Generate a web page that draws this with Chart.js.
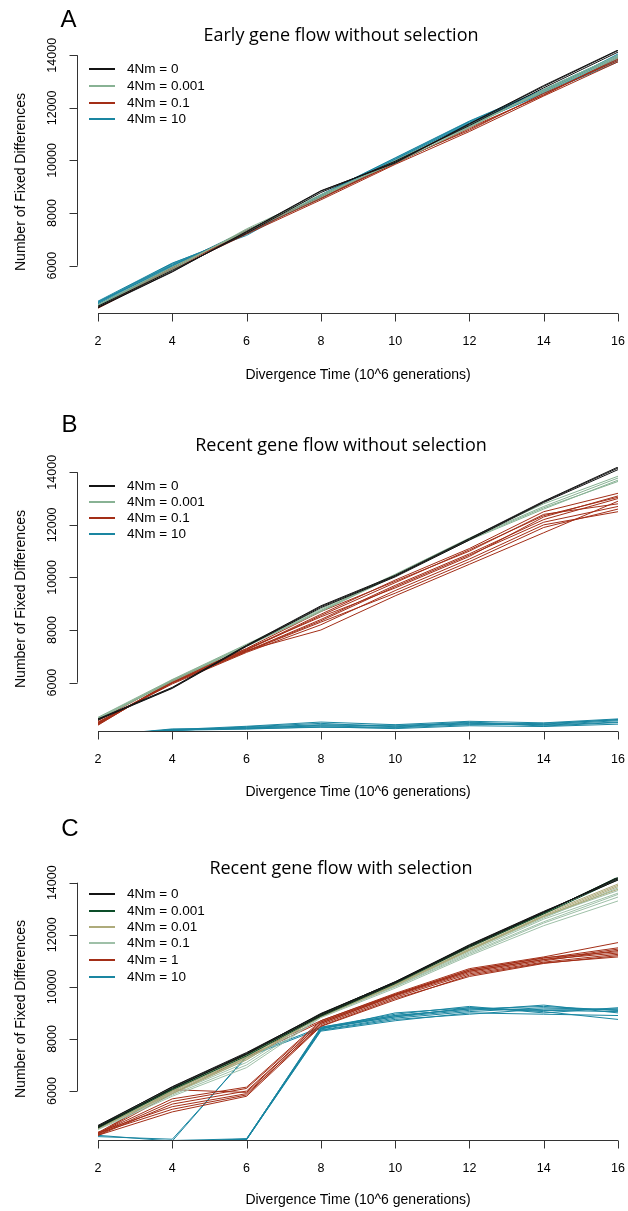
<!DOCTYPE html>
<html>
<head>
<meta charset="utf-8">
<script src="https://cdn.jsdelivr.net/npm/chart.js@4.4.1/dist/chart.umd.min.js"></script>
<style>
body { margin: 0; background: #fff; }
#page { position: relative; width: 628px; height: 1211px; overflow: hidden; font-family: "Liberation Sans", Arial, sans-serif; color: #000; }
#page canvas { position: absolute; left: 0; }
.t { position: absolute; transform: translate(-50%, -50%); line-height: 1; white-space: nowrap; }
.letter { font-size: 24px; }
.title { font-family: "Open Sans", Lato, sans-serif; font-size: 18px; }
.xt { font-size: 14px; }
.yt { font-size: 14px; transform: translate(-50%, -50%) rotate(-90deg); }
.lg { position: absolute; left: 127px; font-size: 13.5px; line-height: 1; white-space: nowrap; transform: translateY(-50%); }
.sw { position: absolute; left: 89px; width: 26px; height: 2px; }
</style>
</head>
<body>
<div id="page"></div>
<script>
// x positions of the simulation runs (10^6 generations)
const years = [2, 4, 6, 8, 10, 12, 14, 16];
const xTicks = [2, 4, 6, 8, 10, 12, 14, 16];
const yTicks = [6000, 8000, 10000, 12000, 14000];

const panelLetters = ['A', 'B', 'C'];
const panelTitles = ['Early gene flow without selection', 'Recent gene flow without selection', 'Recent gene flow with selection'];
const xTitle = 'Divergence Time (10^6 generations)';
const yTitle = 'Number of Fixed Differences';

const legendAB = ['4Nm = 0', '4Nm = 0.001', '4Nm = 0.1', '4Nm = 10'];
const legendC = ['4Nm = 0', '4Nm = 0.001', '4Nm = 0.01', '4Nm = 0.1', '4Nm = 1', '4Nm = 10'];

const colBlack = '#141414';
const colGreen = '#88b294';
const colRed = '#a32e17';
const colTeal = '#1a86a1';
const colDkGreen = '#0c4d29';
const colOlive = '#aeab7b';
const colLtGreen = '#9fc0a8';

// --- panel A : early gene flow, no selection
const aNm0 = [
    [4420, 5780, 7280, 8830, 9930, 11380, 12820, 14180],
    [4460, 5820, 7230, 8780, 9970, 11330, 12760, 14120],
    [4400, 5760, 7300, 8850, 9900, 11400, 12850, 14200]
];
const aNm0001 = [
    [4480, 5900, 7350, 8650, 9950, 11300, 12650, 13950],
    [4520, 5950, 7300, 8600, 10000, 11350, 12600, 13900],
    [4450, 5850, 7400, 8700, 9900, 11250, 12700, 14000]
];
const aNm01 = [
    [4380, 5850, 7200, 8500, 9850, 11100, 12450, 13750],
    [4420, 5900, 7250, 8550, 9900, 11200, 12500, 13850],
    [4400, 5880, 7300, 8600, 9950, 11150, 12550, 13800],
    [4450, 5920, 7350, 8580, 9880, 11250, 12480, 13900]
];
const aNm10 = [
    [4550, 6000, 7250, 8600, 10000, 11400, 12600, 13800],
    [4600, 6050, 7200, 8650, 10050, 11450, 12650, 13900],
    [4500, 5950, 7300, 8550, 9950, 11350, 12550, 13750],
    [4650, 6100, 7150, 8700, 10100, 11500, 12700, 14000],
    [4480, 5980, 7350, 8620, 9980, 11300, 12620, 13850],
    [4580, 6020, 7280, 8580, 10020, 11420, 12580, 14050],
    [4620, 6080, 7220, 8680, 10080, 11480, 12680, 13950]
];

// --- panel B : recent gene flow, no selection
const bNm0 = [
    [4600, 5800, 7400, 8890, 10050, 11450, 12880, 14160],
    [4580, 5780, 7380, 8850, 10020, 11420, 12850, 14100],
    [4620, 5820, 7420, 8920, 10080, 11480, 12900, 14200]
];
const bNm0001 = [
    [4650, 6100, 7430, 8750, 10100, 11480, 12700, 13780],
    [4600, 6050, 7380, 8700, 10050, 11420, 12600, 13700],
    [4680, 6120, 7460, 8800, 10120, 11500, 12800, 13850],
    [4620, 6080, 7400, 8720, 10080, 11450, 12650, 13650]
];
const bNm01 = [
    [4400, 6050, 7250, 8600, 9900, 11100, 12500, 13200],
    [4450, 6000, 7200, 8400, 9700, 10900, 12200, 13000],
    [4380, 6080, 7300, 8700, 9850, 11000, 12400, 12800],
    [4500, 5950, 7150, 8200, 9500, 10700, 12000, 12500],
    [4420, 6020, 7220, 8000, 9300, 10500, 11700, 12900],
    [4550, 6100, 7280, 8500, 9600, 10800, 12300, 13100],
    [4470, 5980, 7180, 8300, 9400, 10600, 11900, 12600],
    [4430, 6060, 7240, 8550, 9800, 11050, 12350, 13050],
    [4490, 6010, 7190, 8350, 9650, 10850, 12100, 12700]
];
const bNm10 = [
    [4000, 4200, 4280, 4350, 4300, 4450, 4400, 4550],
    [4050, 4180, 4300, 4400, 4350, 4500, 4380, 4500],
    [3950, 4220, 4250, 4300, 4280, 4400, 4420, 4600],
    [4020, 4170, 4320, 4450, 4320, 4480, 4350, 4480],
    [3980, 4240, 4260, 4380, 4380, 4420, 4450, 4580],
    [4030, 4190, 4230, 4320, 4250, 4360, 4330, 4420],
    [3990, 4210, 4340, 4500, 4400, 4530, 4470, 4620]
];

// --- panel C : recent gene flow with selection
const cNm0 = [
    [4650, 6170, 7480, 8950, 10200, 11600, 12880, 14150],
    [4600, 6100, 7420, 8900, 10150, 11550, 12850, 14200],
    [4680, 6150, 7450, 8980, 10180, 11620, 12900, 14100]
];
const cNm0001 = [
    [4620, 6120, 7400, 8920, 10170, 11580, 12860, 14180],
    [4580, 6050, 7350, 8870, 10120, 11520, 12800, 14120],
    [4640, 6080, 7430, 8960, 10190, 11560, 12830, 14220]
];
const cNm001 = [
    [4600, 6000, 7300, 8900, 10100, 11450, 12750, 13900],
    [4550, 5950, 7250, 8850, 10050, 11400, 12700, 13850],
    [4620, 6050, 7350, 8930, 10150, 11500, 12800, 13950],
    [4580, 5900, 7200, 8880, 10080, 11420, 12720, 13750]
];
const cNm01 = [
    [4600, 5950, 7200, 8880, 10050, 11350, 12600, 13600],
    [4550, 5850, 7000, 8850, 10000, 11250, 12450, 13450],
    [4650, 6000, 7300, 8950, 10100, 11450, 12700, 13700],
    [4520, 5800, 6900, 8820, 9950, 11200, 12350, 13300],
    [4580, 5900, 7100, 8900, 10020, 11300, 12500, 13550],
    [4620, 6050, 7350, 8920, 10120, 11400, 12650, 13800]
];
const cNm1 = [
    [4400, 6000, 7400, 8700, 9750, 10700, 11150, 11700],
    [4350, 5900, 7300, 8650, 9700, 10650, 11100, 11500],
    [4350, 6050, 5950, 8600, 9650, 10550, 11000, 11400],
    [4300, 5500, 6000, 8600, 9680, 10600, 11050, 11300],
    [4380, 5300, 5850, 8550, 9600, 10500, 10950, 11250],
    [4320, 5600, 6100, 8650, 9700, 10600, 11050, 11450],
    [4420, 5400, 5900, 8500, 9550, 10400, 10900, 11200],
    [4360, 5700, 6150, 8700, 9720, 10650, 11120, 11350],
    [4300, 5200, 5800, 8480, 9500, 10450, 10920, 11150]
];
const cNm10 = [
    [4050, 4000, 4150, 8400, 8900, 9150, 9100, 9050],
    [4000, 3950, 4140, 8350, 8800, 9050, 9200, 9100],
    [4080, 4050, 4160, 8450, 8950, 9250, 9000, 9200],
    [3980, 4020, 4130, 8300, 8700, 9000, 8950, 8900],
    [4100, 4100, 4170, 8420, 8850, 9100, 9300, 9000],
    [4020, 3980, 4140, 8380, 9000, 9200, 9050, 8750],
    [4060, 4030, 4150, 8330, 8750, 8950, 9150, 9150],
    [4300, 4080, 7350, 8450, 8900, 9150, 9250, 9100],
    [4250, 4150, 7300, 8400, 8850, 9200, 9100, 9150]
];

const panels = [
    { top: 0, h: 395, padTop: 50, padBottom: 82, yMin: 4200, yMax: 14200,
      groups: [[aNm0, colBlack], [aNm0001, colGreen], [aNm01, colRed], [aNm10, colTeal]],
      legend: legendAB, legendColors: [colBlack, colGreen, colRed, colTeal], legendY: [69, 86, 103, 119],
      letterPos: [68.5, 18.5], titleY: 34, yTitleY: 181.5, xTitleY: 374 },
    { top: 395, h: 405, padTop: 72, padBottom: 69, yMin: 4160, yMax: 14200,
      groups: [[bNm0, colBlack], [bNm0001, colGreen], [bNm01, colRed], [bNm10, colTeal]],
      legend: legendAB, legendColors: [colBlack, colGreen, colRed, colTeal], legendY: [486, 502, 518, 534],
      letterPos: [69.5, 424], titleY: 443.5, yTitleY: 599, xTitleY: 791 },
    { top: 800, h: 411, padTop: 77.5, padBottom: 71, yMin: 4120, yMax: 14200,
      groups: [[cNm0, colBlack], [cNm0001, colDkGreen], [cNm001, colOlive], [cNm01, colLtGreen], [cNm1, colRed], [cNm10, colTeal]],
      legend: legendC, legendColors: [colBlack, colDkGreen, colOlive, colLtGreen, colRed, colTeal], legendY: [894, 911, 927, 943, 960, 977],
      letterPos: [70, 827.5], titleY: 866.5, yTitleY: 1009, xTitleY: 1199 }
];

// R style axes: lines only between first and last tick
const rAxes = {
    id: 'rAxes',
    afterDraw(chart) {
        const { ctx, chartArea } = chart;
        const xs = chart.scales.x, ys = chart.scales.y;
        ctx.save();
        ctx.strokeStyle = '#333';
        ctx.fillStyle = '#000';
        ctx.lineWidth = 1;
        ctx.font = '12.5px "Liberation Sans", Arial, sans-serif';
        ctx.textAlign = 'center';
        ctx.textBaseline = 'middle';

        const yb = Math.round(chartArea.bottom) + 0.5;
        ctx.beginPath();
        ctx.moveTo(xs.getPixelForValue(xTicks[0]), yb);
        ctx.lineTo(xs.getPixelForValue(xTicks[xTicks.length - 1]), yb);
        xTicks.forEach(v => {
            const px = Math.round(xs.getPixelForValue(v)) + 0.5;
            ctx.moveTo(px, yb);
            ctx.lineTo(px, yb + 8);
        });
        ctx.stroke();
        xTicks.forEach(v => ctx.fillText(String(v), xs.getPixelForValue(v), yb + 28));

        const xl = 77.5;
        ctx.beginPath();
        ctx.moveTo(xl, ys.getPixelForValue(yTicks[0]));
        ctx.lineTo(xl, ys.getPixelForValue(yTicks[yTicks.length - 1]));
        yTicks.forEach(v => {
            const py = Math.round(ys.getPixelForValue(v)) + 0.5;
            ctx.moveTo(xl, py);
            ctx.lineTo(xl - 8, py);
        });
        ctx.stroke();
        yTicks.forEach(v => {
            ctx.save();
            ctx.translate(53, ys.getPixelForValue(v));
            ctx.rotate(-Math.PI / 2);
            ctx.fillText(String(v), 0, 0);
            ctx.restore();
        });
        ctx.restore();
    }
};

const page = document.getElementById('page');

function addText(cls, text, x, y) {
    const d = document.createElement('div');
    d.className = 't ' + cls;
    d.textContent = text;
    d.style.left = x + 'px';
    d.style.top = y + 'px';
    page.appendChild(d);
}

panels.forEach((p, k) => {
    const canvas = document.createElement('canvas');
    canvas.width = 628;
    canvas.height = p.h;
    canvas.style.top = p.top + 'px';
    page.appendChild(canvas);

    const datasets = [];
    p.groups.forEach(([rows, color]) => {
        rows.forEach(row => {
            datasets.push({
                data: row.map((v, i) => ({ x: years[i], y: v })),
                borderColor: color,
                borderWidth: 1,
                pointRadius: 0,
                fill: false,
                tension: 0
            });
        });
    });

    new Chart(canvas, {
        type: 'line',
        data: { datasets: datasets },
        options: {
            responsive: false,
            animation: false,
            events: [],
            layout: { padding: { left: 98, right: 10, top: p.padTop, bottom: p.padBottom } },
            plugins: { legend: { display: false }, tooltip: { enabled: false } },
            scales: {
                x: { type: 'linear', min: xTicks[0], max: xTicks[xTicks.length - 1], display: false },
                y: { type: 'linear', min: p.yMin, max: p.yMax, display: false }
            }
        },
        plugins: [rAxes]
    });

    addText('letter', panelLetters[k], p.letterPos[0], p.letterPos[1]);
    addText('title', panelTitles[k], 341, p.titleY);
    addText('yt', yTitle, 19.5, p.yTitleY);
    addText('xt', xTitle, 358, p.xTitleY);

    p.legend.forEach((lab, i) => {
        const sw = document.createElement('div');
        sw.className = 'sw';
        sw.style.top = (p.legendY[i] - 1) + 'px';
        sw.style.background = p.legendColors[i];
        page.appendChild(sw);
        const t = document.createElement('div');
        t.className = 'lg';
        t.style.top = p.legendY[i] + 'px';
        t.textContent = lab;
        page.appendChild(t);
    });
});
</script>
</body>
</html>
